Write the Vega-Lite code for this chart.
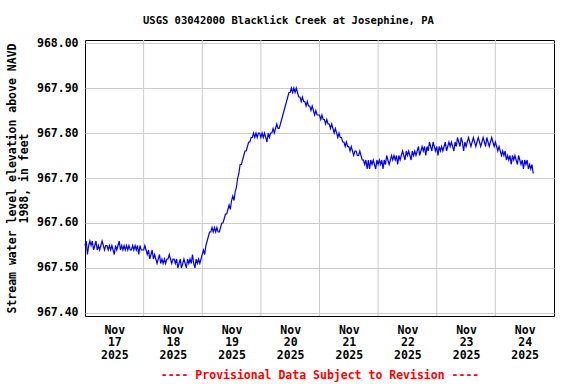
{
"$schema": "https://vega.github.io/schema/vega-lite/v6.json",
"width": 469, "height": 276,
"autosize": {"type": "none"},
"padding": {"left": 85, "top": 40, "right": 22, "bottom": 68},
"background": "white",
"config": {"view": {"stroke": "black", "strokeWidth": 1}, "font": "DejaVu Sans Mono"},
"title": {"text": "USGS 03042000 Blacklick Creek at Josephine, PA", "font": "DejaVu Sans Mono", "fontSize": 10.5, "fontWeight": "bold", "color": "black", "anchor": "start", "frame": "group", "dx": 58, "baseline": "bottom", "offset": 1},
"encoding": {
  "x": {"field": "t", "type": "temporal",
    "scale": {"domain": [{"year": 2025, "month": 11, "date": 17}, {"year": 2025, "month": 11, "date": 25}]},
    "axis": {"values": [{"year": 2025, "month": 11, "date": 17, "hours": 12}, {"year": 2025, "month": 11, "date": 18, "hours": 12}, {"year": 2025, "month": 11, "date": 19, "hours": 12}, {"year": 2025, "month": 11, "date": 20, "hours": 12}, {"year": 2025, "month": 11, "date": 21, "hours": 12}, {"year": 2025, "month": 11, "date": 22, "hours": 12}, {"year": 2025, "month": 11, "date": 23, "hours": 12}, {"year": 2025, "month": 11, "date": 24, "hours": 12}],
      "labelExpr": "[timeFormat(datum.value, '%b'), timeFormat(datum.value, '%d'), timeFormat(datum.value, '%Y')]",
      "grid": false, "ticks": false, "domain": false,
      "labelFont": "DejaVu Sans Mono", "labelFontSize": 11.5, "labelFontWeight": "bold", "labelColor": "black",
      "labelPadding": 8, "labelLineHeight": 12.7, "labelBaseline": "top", "labelFlush": false, "labelOverlap": false,
      "title": "---- Provisional Data Subject to Revision ----", "titleColor": "red", "titleFont": "DejaVu Sans Mono", "titleFontSize": 11.5, "titleFontWeight": "bold", "titlePadding": 9}
  }
},
"layer": [
  {"data": {"values": [{"t": "2025-11-18T00:00"}, {"t": "2025-11-19T00:00"}, {"t": "2025-11-20T00:00"}, {"t": "2025-11-21T00:00"}, {"t": "2025-11-22T00:00"}, {"t": "2025-11-23T00:00"}, {"t": "2025-11-24T00:00"}]},
   "mark": {"type": "rule", "color": "#cccccc", "strokeWidth": 1}},
  {"data": {"values": [
{"t":"2025-11-17T00:00","v":967.55},{"t":"2025-11-17T00:30","v":967.56},{"t":"2025-11-17T01:00","v":967.53},{"t":"2025-11-17T01:30","v":967.55},{"t":"2025-11-17T02:00","v":967.56},{"t":"2025-11-17T02:30","v":967.55},{"t":"2025-11-17T03:00","v":967.56},{"t":"2025-11-17T03:30","v":967.54},{"t":"2025-11-17T04:00","v":967.55},{"t":"2025-11-17T04:30","v":967.56},{"t":"2025-11-17T05:00","v":967.54},{"t":"2025-11-17T05:30","v":967.55},{"t":"2025-11-17T06:00","v":967.54},{"t":"2025-11-17T06:30","v":967.55},{"t":"2025-11-17T07:00","v":967.56},{"t":"2025-11-17T07:30","v":967.55},{"t":"2025-11-17T08:00","v":967.54},{"t":"2025-11-17T08:30","v":967.55},{"t":"2025-11-17T09:00","v":967.55},{"t":"2025-11-17T09:30","v":967.54},{"t":"2025-11-17T10:00","v":967.55},{"t":"2025-11-17T10:30","v":967.54},{"t":"2025-11-17T11:00","v":967.55},{"t":"2025-11-17T11:30","v":967.54},{"t":"2025-11-17T12:00","v":967.53},{"t":"2025-11-17T12:30","v":967.55},{"t":"2025-11-17T13:00","v":967.54},{"t":"2025-11-17T13:30","v":967.55},{"t":"2025-11-17T14:00","v":967.56},{"t":"2025-11-17T14:30","v":967.54},{"t":"2025-11-17T15:00","v":967.55},{"t":"2025-11-17T15:30","v":967.54},{"t":"2025-11-17T16:00","v":967.55},{"t":"2025-11-17T16:30","v":967.54},{"t":"2025-11-17T17:00","v":967.55},{"t":"2025-11-17T17:30","v":967.54},{"t":"2025-11-17T18:00","v":967.55},{"t":"2025-11-17T18:30","v":967.54},{"t":"2025-11-17T19:00","v":967.54},{"t":"2025-11-17T19:30","v":967.55},{"t":"2025-11-17T20:00","v":967.54},{"t":"2025-11-17T20:30","v":967.55},{"t":"2025-11-17T21:00","v":967.54},{"t":"2025-11-17T21:30","v":967.55},{"t":"2025-11-17T22:00","v":967.53},{"t":"2025-11-17T22:30","v":967.55},{"t":"2025-11-17T23:00","v":967.54},{"t":"2025-11-17T23:30","v":967.54},
{"t":"2025-11-18T00:00","v":967.54},{"t":"2025-11-18T00:30","v":967.55},{"t":"2025-11-18T01:00","v":967.54},{"t":"2025-11-18T01:30","v":967.53},{"t":"2025-11-18T02:00","v":967.54},{"t":"2025-11-18T02:30","v":967.52},{"t":"2025-11-18T03:00","v":967.53},{"t":"2025-11-18T03:30","v":967.54},{"t":"2025-11-18T04:00","v":967.52},{"t":"2025-11-18T04:30","v":967.53},{"t":"2025-11-18T05:00","v":967.52},{"t":"2025-11-18T05:30","v":967.51},{"t":"2025-11-18T06:00","v":967.52},{"t":"2025-11-18T06:30","v":967.53},{"t":"2025-11-18T07:00","v":967.51},{"t":"2025-11-18T07:30","v":967.52},{"t":"2025-11-18T08:00","v":967.51},{"t":"2025-11-18T08:30","v":967.52},{"t":"2025-11-18T09:00","v":967.51},{"t":"2025-11-18T09:30","v":967.52},{"t":"2025-11-18T10:00","v":967.52},{"t":"2025-11-18T10:30","v":967.53},{"t":"2025-11-18T11:00","v":967.52},{"t":"2025-11-18T11:30","v":967.51},{"t":"2025-11-18T12:00","v":967.52},{"t":"2025-11-18T12:30","v":967.52},{"t":"2025-11-18T13:00","v":967.51},{"t":"2025-11-18T13:30","v":967.52},{"t":"2025-11-18T14:00","v":967.50},{"t":"2025-11-18T14:30","v":967.51},{"t":"2025-11-18T15:00","v":967.52},{"t":"2025-11-18T15:30","v":967.50},{"t":"2025-11-18T16:00","v":967.51},{"t":"2025-11-18T16:30","v":967.52},{"t":"2025-11-18T17:00","v":967.51},{"t":"2025-11-18T17:30","v":967.50},{"t":"2025-11-18T18:00","v":967.52},{"t":"2025-11-18T18:30","v":967.51},{"t":"2025-11-18T19:00","v":967.52},{"t":"2025-11-18T19:30","v":967.51},{"t":"2025-11-18T20:00","v":967.53},{"t":"2025-11-18T20:30","v":967.51},{"t":"2025-11-18T21:00","v":967.50},{"t":"2025-11-18T21:30","v":967.52},{"t":"2025-11-18T22:00","v":967.51},{"t":"2025-11-18T22:30","v":967.52},{"t":"2025-11-18T23:00","v":967.51},{"t":"2025-11-18T23:30","v":967.52},
{"t":"2025-11-19T00:00","v":967.53},{"t":"2025-11-19T00:30","v":967.54},{"t":"2025-11-19T01:00","v":967.53},{"t":"2025-11-19T01:30","v":967.55},{"t":"2025-11-19T02:00","v":967.56},{"t":"2025-11-19T02:30","v":967.57},{"t":"2025-11-19T03:00","v":967.58},{"t":"2025-11-19T03:30","v":967.58},{"t":"2025-11-19T04:00","v":967.59},{"t":"2025-11-19T04:30","v":967.58},{"t":"2025-11-19T05:00","v":967.59},{"t":"2025-11-19T05:30","v":967.58},{"t":"2025-11-19T06:00","v":967.59},{"t":"2025-11-19T06:30","v":967.58},{"t":"2025-11-19T07:00","v":967.58},{"t":"2025-11-19T07:30","v":967.59},{"t":"2025-11-19T08:00","v":967.60},{"t":"2025-11-19T08:30","v":967.60},{"t":"2025-11-19T09:00","v":967.61},{"t":"2025-11-19T09:30","v":967.62},{"t":"2025-11-19T10:00","v":967.62},{"t":"2025-11-19T10:30","v":967.63},{"t":"2025-11-19T11:00","v":967.64},{"t":"2025-11-19T11:30","v":967.63},{"t":"2025-11-19T12:00","v":967.65},{"t":"2025-11-19T12:30","v":967.66},{"t":"2025-11-19T13:00","v":967.65},{"t":"2025-11-19T13:30","v":967.67},{"t":"2025-11-19T14:00","v":967.68},{"t":"2025-11-19T14:30","v":967.70},{"t":"2025-11-19T15:00","v":967.71},{"t":"2025-11-19T15:30","v":967.73},{"t":"2025-11-19T16:00","v":967.73},{"t":"2025-11-19T16:30","v":967.74},{"t":"2025-11-19T17:00","v":967.75},{"t":"2025-11-19T17:30","v":967.76},{"t":"2025-11-19T18:00","v":967.76},{"t":"2025-11-19T18:30","v":967.77},{"t":"2025-11-19T19:00","v":967.78},{"t":"2025-11-19T19:30","v":967.78},{"t":"2025-11-19T20:00","v":967.79},{"t":"2025-11-19T20:30","v":967.79},{"t":"2025-11-19T21:00","v":967.80},{"t":"2025-11-19T21:30","v":967.79},{"t":"2025-11-19T22:00","v":967.80},{"t":"2025-11-19T22:30","v":967.79},{"t":"2025-11-19T23:00","v":967.80},{"t":"2025-11-19T23:30","v":967.80},
{"t":"2025-11-20T00:00","v":967.79},{"t":"2025-11-20T00:30","v":967.80},{"t":"2025-11-20T01:00","v":967.79},{"t":"2025-11-20T01:30","v":967.80},{"t":"2025-11-20T02:00","v":967.79},{"t":"2025-11-20T02:30","v":967.78},{"t":"2025-11-20T03:00","v":967.80},{"t":"2025-11-20T03:30","v":967.79},{"t":"2025-11-20T04:00","v":967.80},{"t":"2025-11-20T04:30","v":967.80},{"t":"2025-11-20T05:00","v":967.81},{"t":"2025-11-20T05:30","v":967.80},{"t":"2025-11-20T06:00","v":967.81},{"t":"2025-11-20T06:30","v":967.82},{"t":"2025-11-20T07:00","v":967.81},{"t":"2025-11-20T07:30","v":967.81},{"t":"2025-11-20T08:00","v":967.82},{"t":"2025-11-20T08:30","v":967.83},{"t":"2025-11-20T09:00","v":967.84},{"t":"2025-11-20T09:30","v":967.85},{"t":"2025-11-20T10:00","v":967.86},{"t":"2025-11-20T10:30","v":967.87},{"t":"2025-11-20T11:00","v":967.88},{"t":"2025-11-20T11:30","v":967.89},{"t":"2025-11-20T12:00","v":967.89},{"t":"2025-11-20T12:30","v":967.90},{"t":"2025-11-20T13:00","v":967.89},{"t":"2025-11-20T13:30","v":967.90},{"t":"2025-11-20T14:00","v":967.89},{"t":"2025-11-20T14:30","v":967.90},{"t":"2025-11-20T15:00","v":967.89},{"t":"2025-11-20T15:30","v":967.88},{"t":"2025-11-20T16:00","v":967.88},{"t":"2025-11-20T16:30","v":967.87},{"t":"2025-11-20T17:00","v":967.88},{"t":"2025-11-20T17:30","v":967.87},{"t":"2025-11-20T18:00","v":967.87},{"t":"2025-11-20T18:30","v":967.86},{"t":"2025-11-20T19:00","v":967.87},{"t":"2025-11-20T19:30","v":967.86},{"t":"2025-11-20T20:00","v":967.86},{"t":"2025-11-20T20:30","v":967.85},{"t":"2025-11-20T21:00","v":967.86},{"t":"2025-11-20T21:30","v":967.85},{"t":"2025-11-20T22:00","v":967.84},{"t":"2025-11-20T22:30","v":967.85},{"t":"2025-11-20T23:00","v":967.84},{"t":"2025-11-20T23:30","v":967.84},
{"t":"2025-11-21T00:00","v":967.84},{"t":"2025-11-21T00:30","v":967.83},{"t":"2025-11-21T01:00","v":967.84},{"t":"2025-11-21T01:30","v":967.83},{"t":"2025-11-21T02:00","v":967.83},{"t":"2025-11-21T02:30","v":967.82},{"t":"2025-11-21T03:00","v":967.83},{"t":"2025-11-21T03:30","v":967.82},{"t":"2025-11-21T04:00","v":967.82},{"t":"2025-11-21T04:30","v":967.81},{"t":"2025-11-21T05:00","v":967.82},{"t":"2025-11-21T05:30","v":967.81},{"t":"2025-11-21T06:00","v":967.80},{"t":"2025-11-21T06:30","v":967.81},{"t":"2025-11-21T07:00","v":967.80},{"t":"2025-11-21T07:30","v":967.79},{"t":"2025-11-21T08:00","v":967.80},{"t":"2025-11-21T08:30","v":967.79},{"t":"2025-11-21T09:00","v":967.79},{"t":"2025-11-21T09:30","v":967.78},{"t":"2025-11-21T10:00","v":967.78},{"t":"2025-11-21T10:30","v":967.77},{"t":"2025-11-21T11:00","v":967.78},{"t":"2025-11-21T11:30","v":967.77},{"t":"2025-11-21T12:00","v":967.77},{"t":"2025-11-21T12:30","v":967.76},{"t":"2025-11-21T13:00","v":967.77},{"t":"2025-11-21T13:30","v":967.76},{"t":"2025-11-21T14:00","v":967.75},{"t":"2025-11-21T14:30","v":967.76},{"t":"2025-11-21T15:00","v":967.76},{"t":"2025-11-21T15:30","v":967.75},{"t":"2025-11-21T16:00","v":967.75},{"t":"2025-11-21T16:30","v":967.76},{"t":"2025-11-21T17:00","v":967.75},{"t":"2025-11-21T17:30","v":967.74},{"t":"2025-11-21T18:00","v":967.74},{"t":"2025-11-21T18:30","v":967.73},{"t":"2025-11-21T19:00","v":967.74},{"t":"2025-11-21T19:30","v":967.72},{"t":"2025-11-21T20:00","v":967.74},{"t":"2025-11-21T20:30","v":967.72},{"t":"2025-11-21T21:00","v":967.74},{"t":"2025-11-21T21:30","v":967.73},{"t":"2025-11-21T22:00","v":967.74},{"t":"2025-11-21T22:30","v":967.73},{"t":"2025-11-21T23:00","v":967.72},{"t":"2025-11-21T23:30","v":967.74},
{"t":"2025-11-22T00:00","v":967.73},{"t":"2025-11-22T00:30","v":967.74},{"t":"2025-11-22T01:00","v":967.73},{"t":"2025-11-22T01:30","v":967.74},{"t":"2025-11-22T02:00","v":967.72},{"t":"2025-11-22T02:30","v":967.74},{"t":"2025-11-22T03:00","v":967.73},{"t":"2025-11-22T03:30","v":967.75},{"t":"2025-11-22T04:00","v":967.74},{"t":"2025-11-22T04:30","v":967.73},{"t":"2025-11-22T05:00","v":967.74},{"t":"2025-11-22T05:30","v":967.75},{"t":"2025-11-22T06:00","v":967.74},{"t":"2025-11-22T06:30","v":967.75},{"t":"2025-11-22T07:00","v":967.74},{"t":"2025-11-22T07:30","v":967.75},{"t":"2025-11-22T08:00","v":967.73},{"t":"2025-11-22T08:30","v":967.75},{"t":"2025-11-22T09:00","v":967.74},{"t":"2025-11-22T09:30","v":967.75},{"t":"2025-11-22T10:00","v":967.76},{"t":"2025-11-22T10:30","v":967.75},{"t":"2025-11-22T11:00","v":967.74},{"t":"2025-11-22T11:30","v":967.76},{"t":"2025-11-22T12:00","v":967.75},{"t":"2025-11-22T12:30","v":967.76},{"t":"2025-11-22T13:00","v":967.75},{"t":"2025-11-22T13:30","v":967.74},{"t":"2025-11-22T14:00","v":967.76},{"t":"2025-11-22T14:30","v":967.75},{"t":"2025-11-22T15:00","v":967.76},{"t":"2025-11-22T15:30","v":967.75},{"t":"2025-11-22T16:00","v":967.76},{"t":"2025-11-22T16:30","v":967.77},{"t":"2025-11-22T17:00","v":967.75},{"t":"2025-11-22T17:30","v":967.76},{"t":"2025-11-22T18:00","v":967.77},{"t":"2025-11-22T18:30","v":967.76},{"t":"2025-11-22T19:00","v":967.77},{"t":"2025-11-22T19:30","v":967.75},{"t":"2025-11-22T20:00","v":967.77},{"t":"2025-11-22T20:30","v":967.76},{"t":"2025-11-22T21:00","v":967.78},{"t":"2025-11-22T21:30","v":967.77},{"t":"2025-11-22T22:00","v":967.76},{"t":"2025-11-22T22:30","v":967.78},{"t":"2025-11-22T23:00","v":967.77},{"t":"2025-11-22T23:30","v":967.76},
{"t":"2025-11-23T00:00","v":967.77},{"t":"2025-11-23T00:30","v":967.75},{"t":"2025-11-23T01:00","v":967.77},{"t":"2025-11-23T01:30","v":967.76},{"t":"2025-11-23T02:00","v":967.77},{"t":"2025-11-23T02:30","v":967.76},{"t":"2025-11-23T03:00","v":967.77},{"t":"2025-11-23T03:30","v":967.78},{"t":"2025-11-23T04:00","v":967.76},{"t":"2025-11-23T04:30","v":967.77},{"t":"2025-11-23T05:00","v":967.78},{"t":"2025-11-23T05:30","v":967.77},{"t":"2025-11-23T06:00","v":967.78},{"t":"2025-11-23T06:30","v":967.77},{"t":"2025-11-23T07:00","v":967.76},{"t":"2025-11-23T07:30","v":967.78},{"t":"2025-11-23T08:00","v":967.77},{"t":"2025-11-23T08:30","v":967.79},{"t":"2025-11-23T09:00","v":967.78},{"t":"2025-11-23T09:30","v":967.77},{"t":"2025-11-23T10:00","v":967.79},{"t":"2025-11-23T10:30","v":967.78},{"t":"2025-11-23T11:00","v":967.76},{"t":"2025-11-23T11:30","v":967.78},{"t":"2025-11-23T12:00","v":967.77},{"t":"2025-11-23T12:30","v":967.78},{"t":"2025-11-23T13:00","v":967.79},{"t":"2025-11-23T13:30","v":967.78},{"t":"2025-11-23T14:00","v":967.77},{"t":"2025-11-23T14:30","v":967.78},{"t":"2025-11-23T15:00","v":967.79},{"t":"2025-11-23T15:30","v":967.78},{"t":"2025-11-23T16:00","v":967.77},{"t":"2025-11-23T16:30","v":967.78},{"t":"2025-11-23T17:00","v":967.79},{"t":"2025-11-23T17:30","v":967.78},{"t":"2025-11-23T18:00","v":967.77},{"t":"2025-11-23T18:30","v":967.78},{"t":"2025-11-23T19:00","v":967.79},{"t":"2025-11-23T19:30","v":967.78},{"t":"2025-11-23T20:00","v":967.77},{"t":"2025-11-23T20:30","v":967.79},{"t":"2025-11-23T21:00","v":967.78},{"t":"2025-11-23T21:30","v":967.77},{"t":"2025-11-23T22:00","v":967.78},{"t":"2025-11-23T22:30","v":967.79},{"t":"2025-11-23T23:00","v":967.78},{"t":"2025-11-23T23:30","v":967.77},
{"t":"2025-11-24T00:00","v":967.78},{"t":"2025-11-24T00:30","v":967.77},{"t":"2025-11-24T01:00","v":967.76},{"t":"2025-11-24T01:30","v":967.77},{"t":"2025-11-24T02:00","v":967.76},{"t":"2025-11-24T02:30","v":967.75},{"t":"2025-11-24T03:00","v":967.76},{"t":"2025-11-24T03:30","v":967.75},{"t":"2025-11-24T04:00","v":967.76},{"t":"2025-11-24T04:30","v":967.74},{"t":"2025-11-24T05:00","v":967.75},{"t":"2025-11-24T05:30","v":967.74},{"t":"2025-11-24T06:00","v":967.75},{"t":"2025-11-24T06:30","v":967.73},{"t":"2025-11-24T07:00","v":967.75},{"t":"2025-11-24T07:30","v":967.74},{"t":"2025-11-24T08:00","v":967.75},{"t":"2025-11-24T08:30","v":967.74},{"t":"2025-11-24T09:00","v":967.73},{"t":"2025-11-24T09:30","v":967.75},{"t":"2025-11-24T10:00","v":967.74},{"t":"2025-11-24T10:30","v":967.73},{"t":"2025-11-24T11:00","v":967.74},{"t":"2025-11-24T11:30","v":967.72},{"t":"2025-11-24T12:00","v":967.74},{"t":"2025-11-24T12:30","v":967.73},{"t":"2025-11-24T13:00","v":967.74},{"t":"2025-11-24T13:30","v":967.72},{"t":"2025-11-24T14:00","v":967.73},{"t":"2025-11-24T14:30","v":967.72},{"t":"2025-11-24T15:00","v":967.73},{"t":"2025-11-24T15:30","v":967.71}
  ]},
   "mark": {"type": "line", "color": "#0000ff", "strokeWidth": 1.2},
   "encoding": {
     "y": {"field": "v", "type": "quantitative",
       "scale": {"domain": [967.3933, 968.0067], "nice": false, "zero": false},
       "axis": {"values": [967.4, 967.5, 967.6, 967.7, 967.8, 967.9, 968.0], "format": ".2f",
         "grid": true, "gridColor": "#cccccc", "gridWidth": 1, "ticks": false, "domain": false,
         "labelFont": "DejaVu Sans Mono", "labelFontSize": 11.5, "labelFontWeight": "bold", "labelColor": "black", "labelPadding": 7,
         "title": ["Stream water level elevation above NAVD", "1988, in feet"], "titleFont": "DejaVu Sans Mono", "titleFontSize": 11.5, "titleFontWeight": "bold", "titleColor": "black", "titleLineHeight": 12, "titlePadding": 7}}
   }}
]
}
